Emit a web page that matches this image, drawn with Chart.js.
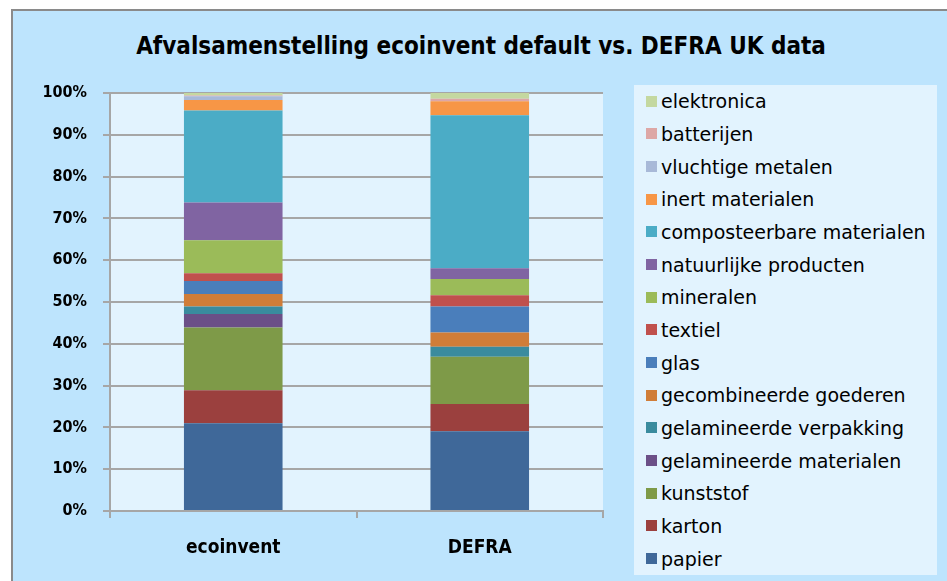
<!DOCTYPE html>
<html>
<head>
<meta charset="utf-8">
<script src="https://cdn.jsdelivr.net/npm/chart.js@4"></script>
<style>
    html, body { margin: 0; padding: 0; background: #fff; }
    body { width: 947px; height: 581px; position: relative; overflow: hidden; }
    #frame {
        position: absolute; left: 11px; top: 9px; right: 0; bottom: 0;
        background: #bde4fd;
        border-top: 2px solid #8a8a8a; border-left: 2px solid #8a8a8a;
    }
    #wrap { position: absolute; left: 18px; top: 0; width: 929px; height: 581px; }
    #title {
        position: absolute; left: 0; width: 962px; top: 30px; height: 32px; line-height: 32px;
        text-align: center; font-weight: bold; font-size: 24px; color: #000;
        font-family: "DejaVu Sans Condensed", "DejaVu Sans", sans-serif;
    }
    #legend {
        position: absolute; left: 634px; top: 85px; width: 303px; height: 490px;
        background: #e2f3fe;
        font-family: "DejaVu Sans", sans-serif;
        font-size: 19px; color: #000;
    }
    .leg-item { height: 32.67px; display: flex; align-items: center; padding-left: 12px; white-space: nowrap; }
    .leg-box { width: 11px; height: 11px; margin-right: 4px; flex: none; }
</style>
</head>
<body>
<div id="frame"></div>
<div id="title">Afvalsamenstelling ecoinvent default vs. DEFRA UK data</div>
<div id="wrap"><canvas id="chart" width="929" height="581"></canvas></div>
<div id="legend"></div>
<script>
// Afvalsamenstelling: ecoinvent default vs. DEFRA UK (percent of total)

const categories = ['ecoinvent', 'DEFRA'];
const yTicks = [0, 10, 20, 30, 40, 50, 60, 70, 80, 90, 100];

const papier = [21.0, 19.1];
const karton = [7.9, 6.5];
const kunststof = [15.0, 11.3];
const gelamineerdeMaterialen = [3.2, 0];
const gelamineerdeVerpakking = [1.8, 2.4];
const gecombineerdeGoederen = [3.0, 3.4];
const glas = [3.1, 6.2];
const textiel = [1.9, 2.7];
const mineralen = [7.9, 3.9];
const natuurlijkeProducten = [9.0, 2.6];
const composteerbareMaterialen = [22.0, 36.6];
const inertMaterialen = [2.5, 3.3];
const vluchtigeMetalen = [0.9, 0];
const batterijen = [0.2, 0.6];
const elektronica = [0.6, 1.4];

const series = [
    { label: 'papier', data: papier, color: '#3f6899' },
    { label: 'karton', data: karton, color: '#9b403e' },
    { label: 'kunststof', data: kunststof, color: '#7e9a48' },
    { label: 'gelamineerde materialen', data: gelamineerdeMaterialen, color: '#6b4f87' },
    { label: 'gelamineerde verpakking', data: gelamineerdeVerpakking, color: '#3a8b9e' },
    { label: 'gecombineerde goederen', data: gecombineerdeGoederen, color: '#d07d38' },
    { label: 'glas', data: glas, color: '#4a7ebb' },
    { label: 'textiel', data: textiel, color: '#c0504d' },
    { label: 'mineralen', data: mineralen, color: '#9bbb59' },
    { label: 'natuurlijke producten', data: natuurlijkeProducten, color: '#8064a2' },
    { label: 'composteerbare materialen', data: composteerbareMaterialen, color: '#4bacc6' },
    { label: 'inert materialen', data: inertMaterialen, color: '#f79646' },
    { label: 'vluchtige metalen', data: vluchtigeMetalen, color: '#a8b9d8' },
    { label: 'batterijen', data: batterijen, color: '#dda7a6' },
    { label: 'elektronica', data: elektronica, color: '#c4d8a0' },
];

const FONT = '"DejaVu Sans Condensed", "DejaVu Sans", sans-serif';
const GRID = '#a6a6a6';

// light fill behind the plot area
const plotBg = {
    id: 'plotBg',
    beforeDraw(chart) {
        const { ctx, chartArea: a } = chart;
        ctx.save();
        ctx.fillStyle = '#e2f3fe';
        ctx.fillRect(a.left, a.top, a.right - a.left, a.bottom - a.top);
        ctx.restore();
    }
};

const chart = new Chart(document.getElementById('chart'), {
    type: 'bar',
    data: {
        labels: categories,
        datasets: series.map(s => ({
            label: s.label,
            data: s.data,
            backgroundColor: s.color,
            borderWidth: 0,
            barPercentage: 0.4,
            categoryPercentage: 1,
        })),
    },
    options: {
        responsive: false,
        animation: false,
        layout: { padding: { left: 0, right: 344, top: 93, bottom: 0 } },
        plugins: {
            legend: { display: false },
            tooltip: { enabled: false },
            title: { display: false },
        },
        scales: {
            x: {
                stacked: true,
                afterFit(scale) { scale.height = 70; },
                grid: { drawOnChartArea: false, drawTicks: true, tickLength: 7, color: GRID, lineWidth: 2 },
                border: { color: GRID, width: 2 },
                ticks: { color: '#000', padding: 19, font: { family: FONT, size: 19, weight: 'bold' } },
            },
            y: {
                stacked: true,
                min: 0,
                max: 100,
                afterFit(scale) { scale.width = 92; },
                afterBuildTicks(scale) { scale.ticks = yTicks.map(v => ({ value: v })); },
                grid: { color: GRID, lineWidth: 2, tickLength: 7 },
                border: { color: GRID, width: 2 },
                ticks: {
                    color: '#000',
                    padding: 16,
                    font: { family: FONT, size: 16, weight: 'bold' },
                    callback: v => v + '%',
                },
            },
        },
    },
    plugins: [plotBg],
});

// --- Legend (top item = top of the stack) ---
const legend = document.getElementById('legend');
series.slice().reverse().forEach(s => {
    const row = document.createElement('div');
    row.className = 'leg-item';
    row.innerHTML = `<span class="leg-box" style="background:${s.color}"></span><span>${s.label}</span>`;
    legend.appendChild(row);
});
</script>
</body>
</html>
